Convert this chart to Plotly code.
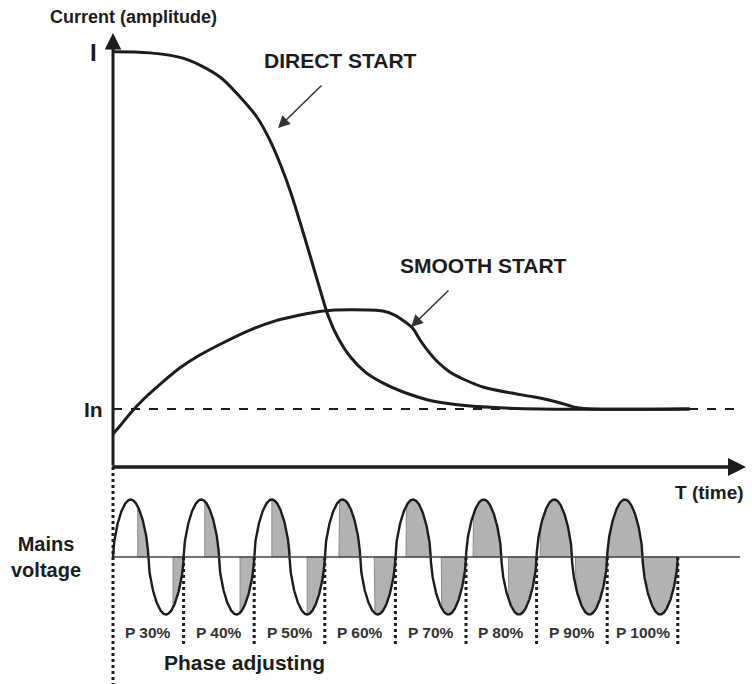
import numpy as np
import plotly.graph_objects as go

# ---------------- data ----------------
# time in mains periods, current in multiples of the nominal current In
direct_t = [0, 0.52, 0.99, 1.23, 1.52, 1.80, 2.04, 2.22, 2.37, 2.51, 2.65, 2.79, 2.93,
            3.05, 3.19, 3.36, 3.57, 3.82, 4.14, 4.45, 4.77, 5.06, 5.48, 6.05, 8.17]
direct_i = [7.16, 7.14, 7.05, 6.93, 6.72, 6.38, 6.03, 5.64, 5.22, 4.76, 4.22, 3.65, 3.07,
            2.60, 2.22, 1.90, 1.64, 1.45, 1.28, 1.16, 1.09, 1.05, 1.02, 1.00, 1.00]

smooth_t = [0, 0.10, 0.24, 0.45, 0.67, 0.95, 1.23, 1.59, 1.94, 2.30, 2.65, 2.98, 3.36,
            3.82, 3.99, 4.14, 4.24, 4.35, 4.45, 4.60, 4.77, 4.99, 5.24, 5.62, 5.95,
            6.26, 6.58, 6.80, 8.17]
smooth_i = [0.57, 0.71, 0.92, 1.19, 1.43, 1.71, 1.93, 2.16, 2.36, 2.52, 2.62, 2.69, 2.71,
            2.69, 2.62, 2.50, 2.40, 2.19, 2.02, 1.81, 1.64, 1.50, 1.38, 1.28, 1.21,
            1.13, 1.02, 1.00, 1.00]

I_NOMINAL = 1.0          # "In"
I_START = 7.16           # "I"
phase_pct = [30, 40, 50, 60, 70, 80, 90, 100]
phase_labels = [f"P {p}%" for p in phase_pct]

# ---------------- geometry of the canvas ----------------
W, H = 752, 684
PX0, PX_PER_T = 113, 70.6          # x pixel of t=0, pixels per period
PY0, PX_PER_I = 467, 58.0          # y pixel of current 0, pixels per In
PYV0, PX_PER_V = 557, 57.5         # y pixel of voltage 0, pixels per unit amplitude

x_range = [-PX0 / PX_PER_T, (W - PX0) / PX_PER_T]
top_dom = [1 - PY0 / H, 1]
y_range = [0, PY0 / PX_PER_I]
bot_dom = [0, 1 - PY0 / H]
y2_range = [-(H - PYV0) / PX_PER_V, (PYV0 - PY0) / PX_PER_V]

INK = "#1c1c1c"
FONT = "Liberation Sans, Arial, sans-serif"
WAVE_ROUNDNESS = 0.6   # drawn wave is a rounded (fat) sine, as in the sketch


def t_of(px):
    return (px - PX0) / PX_PER_T


def i_of(py):
    return (PY0 - py) / PX_PER_I


def v_of(py):
    return (PYV0 - py) / PX_PER_V


def wave(t):
    s = np.sin(2 * np.pi * np.asarray(t))
    return np.sign(s) * np.abs(s) ** WAVE_ROUNDNESS


fig = go.Figure()

# shaded conduction parts of each mains period
n = len(phase_pct)
sx, sy = [], []
for k, p in enumerate(phase_pct):
    alpha = 1 - p / 100.0
    for h in (0, 1):
        t0 = k + 0.5 * h + 0.5 * alpha
        t1 = k + 0.5 * (h + 1)
        ts = np.linspace(t0, t1, 60)
        vs = wave(ts)
        sx += [t0] + list(ts) + [t1, t0, None]
        sy += [0] + list(vs) + [0, 0, None]
fig.add_trace(go.Scatter(x=sx, y=sy, xaxis="x", yaxis="y2", mode="lines",
                         fill="toself", fillcolor="#b2b2b2",
                         line=dict(color="#8c8c8c", width=1), hoverinfo="skip"))

# mains wave
tw = np.linspace(0, n, n * 400 + 1)
fig.add_trace(go.Scatter(x=tw, y=wave(tw), xaxis="x", yaxis="y2",
                         mode="lines", line=dict(color=INK, width=2.4), hoverinfo="skip"))

# current curves
fig.add_trace(go.Scatter(x=direct_t, y=direct_i, mode="lines",
                         line=dict(color=INK, width=3, shape="spline", smoothing=1.0),
                         hoverinfo="skip"))
fig.add_trace(go.Scatter(x=smooth_t, y=smooth_i, mode="lines",
                         line=dict(color=INK, width=3, shape="spline", smoothing=0.8),
                         hoverinfo="skip"))

shapes = []
# In dashed level
shapes.append(dict(type="line", xref="x", yref="y", x0=0, x1=t_of(740),
                   y0=I_NOMINAL, y1=I_NOMINAL, line=dict(color=INK, width=2, dash="dash")))
# voltage zero line
shapes.append(dict(type="line", xref="x", yref="y2", x0=0, x1=t_of(740), y0=0, y1=0,
                   line=dict(color="#444444", width=1.5)))
# period dividers
for k in range(1, n + 1):
    shapes.append(dict(type="line", xref="x", yref="y2", x0=k, x1=k, y0=0, y1=v_of(645),
                       line=dict(color=INK, width=3, dash="dot")))
shapes.append(dict(type="line", xref="x", yref="y2", x0=0, x1=0, y0=y2_range[1],
                   y1=y2_range[0], line=dict(color=INK, width=3, dash="dot")))

annotations = []
# axes with arrow heads
annotations.append(dict(x=0, y=i_of(33), ax=0, ay=0, xref="x", yref="y", axref="x",
                        ayref="y", text="", showarrow=True, arrowhead=2, arrowsize=1.1,
                        arrowwidth=3, arrowcolor=INK, standoff=0, startstandoff=0))
annotations.append(dict(x=t_of(746), y=0, ax=-0.03, ay=0, xref="x", yref="y", axref="x",
                        ayref="y", text="", showarrow=True, arrowhead=2, arrowsize=1.0,
                        arrowwidth=3.6, arrowcolor=INK, standoff=0, startstandoff=0))
# pointer arrows
annotations.append(dict(x=t_of(278), y=i_of(128), ax=t_of(323), ay=i_of(84), xref="x",
                        yref="y", axref="x", ayref="y", text="", showarrow=True,
                        arrowhead=2, arrowsize=1.6, arrowwidth=1.5, arrowcolor="#333333"))
annotations.append(dict(x=t_of(411), y=i_of(327), ax=t_of(450), ay=i_of(289), xref="x",
                        yref="y", axref="x", ayref="y", text="", showarrow=True,
                        arrowhead=2, arrowsize=1.6, arrowwidth=1.5, arrowcolor="#333333"))


def label(text, px, py, size, color=INK, align="center"):
    annotations.append(dict(text=f"<b>{text}</b>", x=px / W, y=1 - py / H, xref="paper",
                            yref="paper", showarrow=False, xanchor="center",
                            yanchor="middle", align=align,
                            font=dict(family=FONT, size=size, color=color)))


label("Current (amplitude)", 133, 17, 18)
label("I", 93, 53, 24)
label("In", 93, 409, 21)
label("DIRECT START", 340, 60, 21)
label("SMOOTH START", 484, 266, 21)
label("T (time)", 709, 493, 19)
label("Mains<br>voltage", 46, 557, 20)
label("Phase adjusting", 244, 662, 21)
for k, txt in enumerate(phase_labels):
    label(txt, PX0 + (k + 0.5) * PX_PER_T, 632, 15.5, color="#333333")

fig.update_layout(
    width=W, height=H,
    margin=dict(l=0, r=0, t=0, b=0, pad=0),
    paper_bgcolor="white", plot_bgcolor="white",
    showlegend=False,
    xaxis=dict(range=x_range, visible=False, fixedrange=True),
    yaxis=dict(domain=top_dom, range=y_range, visible=False, fixedrange=True),
    yaxis2=dict(domain=bot_dom, range=y2_range, visible=False, anchor="x", fixedrange=True),
    shapes=shapes,
    annotations=annotations,
)

fig.write_html("out.html", config={"displayModeBar": False},
               post_script="document.body.style.margin='0';")
